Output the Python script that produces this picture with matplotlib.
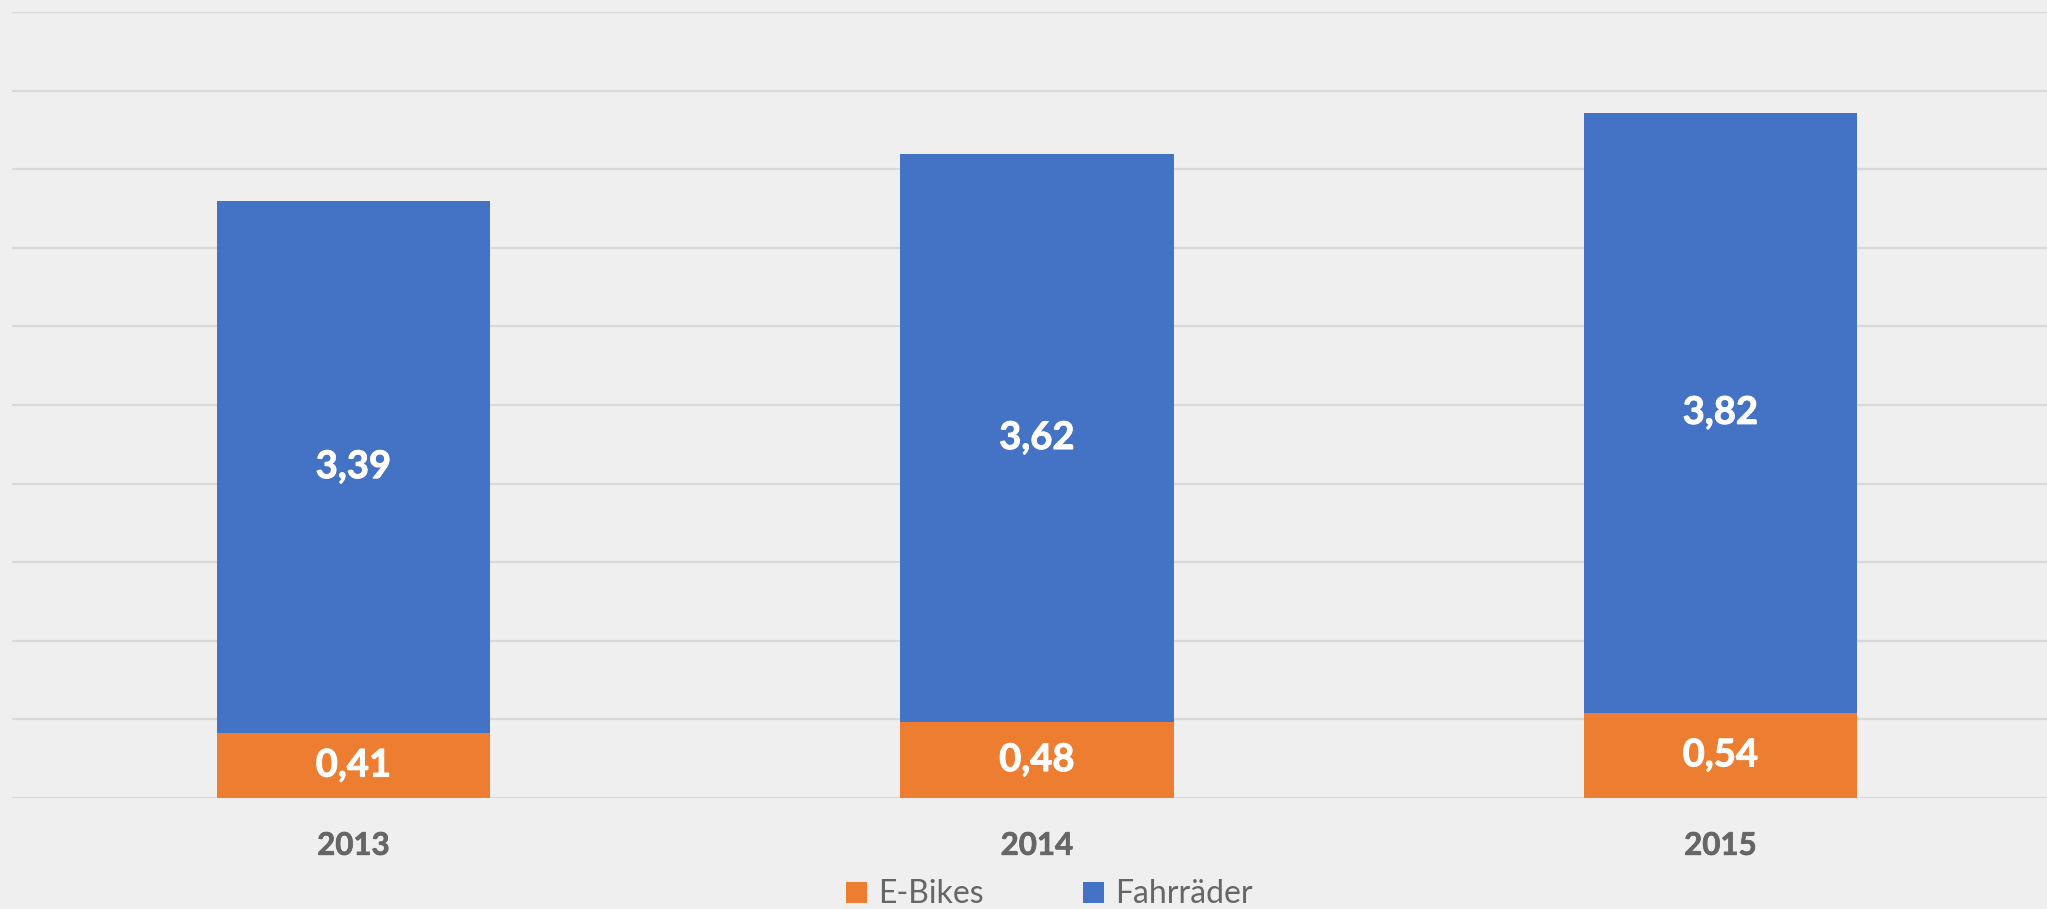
import matplotlib
matplotlib.use("Agg")
import matplotlib.pyplot as plt
import matplotlib.patheffects as pe
import numpy as np
from matplotlib.patches import Patch

years = ["2013", "2014", "2015"]
ebikes = [0.41, 0.48, 0.54]
fahrraeder = [3.39, 3.62, 3.82]
series_names = ["E-Bikes", "Fahrräder"]
colors = ["#ED7D31", "#4472C4"]

plt.rcParams['font.family'] = ['Lato', 'DejaVu Sans']

W, H = 2047, 909
fig = plt.figure(figsize=(W / 100, H / 100), dpi=100)
bg = "#EFEFEF"
fig.patch.set_facecolor(bg)

left = 11.65 / W
bottom = (H - 797.8) / H
top = (H - 12.3) / H
ax = fig.add_axes([left, bottom, 1 - left, top - bottom])
ax.set_facecolor(bg)

x = np.arange(len(years))
b1 = ax.bar(x, ebikes, width=0.4, color=colors[0], zorder=3)
b2 = ax.bar(x, fahrraeder, width=0.4, bottom=ebikes, color=colors[1], zorder=3)

fmt = lambda v: f"{v:.2f}".replace(".", ",")
for bars, vals in ((b1, ebikes), (b2, fahrraeder)):
    txts = ax.bar_label(bars, labels=[fmt(v) for v in vals], label_type='center',
                        color='white', fontsize=27.5, fontweight='bold')
    for t in txts:
        t.set_path_effects([pe.withStroke(linewidth=0.7, foreground='white')])

ax.set_xlim(-0.5, -0.5 + (W - 11.65) / 683.5)
ax.set_ylim(0, 5)
ax.set_yticks(np.arange(0, 5.01, 0.5))
ax.yaxis.grid(True, color='#D9D9D9', linewidth=1.6, zorder=0)
ax.set_axisbelow(True)
ax.tick_params(axis='y', left=False, labelleft=False)
ax.set_xticks(x)
ax.set_xticklabels(years, fontsize=22.5, fontweight='bold', color='#666666')
for t in ax.get_xticklabels():
    t.set_path_effects([pe.withStroke(linewidth=0.5, foreground='#666666')])
ax.tick_params(axis='x', bottom=False, pad=21)
for s in ax.spines.values():
    s.set_visible(False)

handles = [Patch(facecolor=c, edgecolor='none') for c in colors]
fig.legend(handles, series_names, loc='center', bbox_to_anchor=(1049.5 / W, 0.016),
           ncol=2, frameon=False, fontsize=23, labelcolor='#666666',
           handlelength=0.65, handleheight=0.65, handletextpad=0.35,
           columnspacing=3.1, borderpad=0)

fig.savefig("out.png", dpi=100, facecolor=bg)
